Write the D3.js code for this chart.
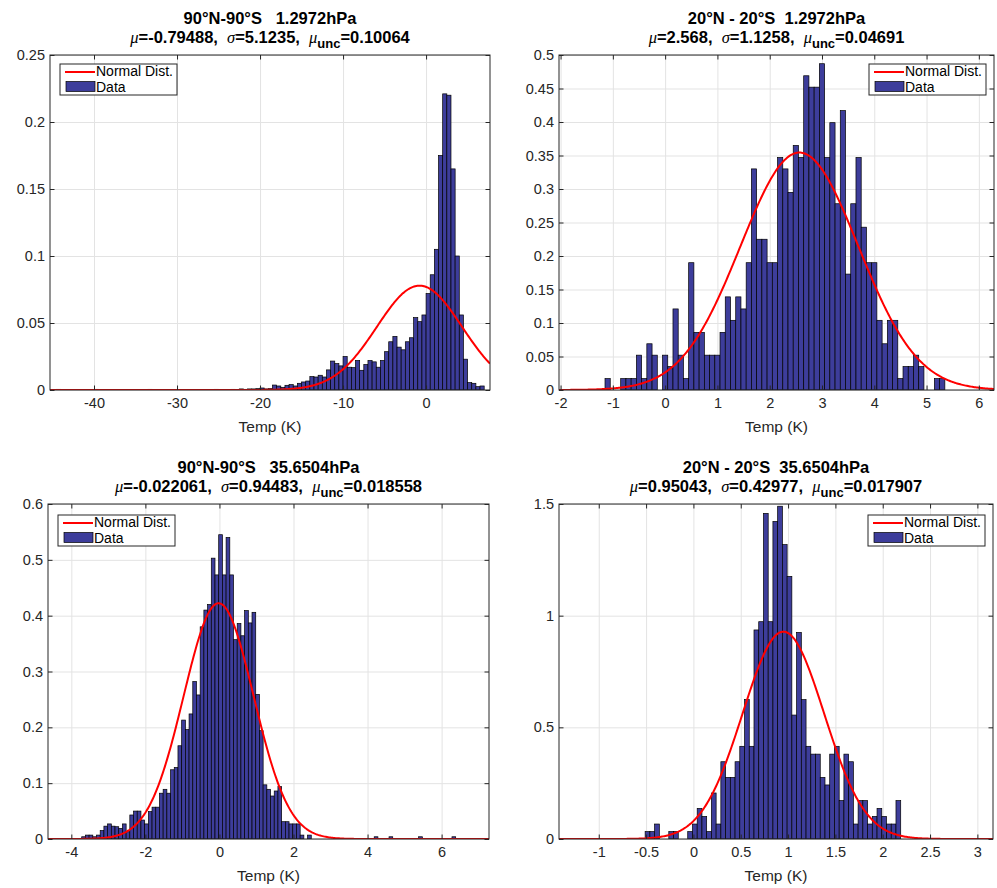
<!DOCTYPE html>
<html lang="en">

<head>
	<meta charset="utf-8">
	<title>Temp (K) histograms</title>
	<script src="https://cdn.jsdelivr.net/npm/d3@7"></script>
	<style>
		body {
			margin: 0;
			background: #fff;
		}

		svg {
			display: block;
			font-family: "Liberation Sans", Arial, Helvetica, sans-serif;
		}

		.title {
			font-size: 16.5px;
			font-weight: bold;
			fill: #000;
			white-space: pre;
		}

		.greek {
			font-family: "Liberation Serif", "DejaVu Serif", serif;
			font-style: italic;
			font-weight: normal;
			font-size: 16.5px;
		}

		.tick text {
			font-size: 14.5px;
			fill: #262626;
		}

		.grid line {
			stroke: #e3e3e3;
			stroke-width: 1;
		}

		.ticks line {
			stroke: #262626;
		}

		.xlabel {
			font-size: 15.5px;
			fill: #262626;
		}

		.legend text {
			font-size: 14px;
			fill: #000;
		}
	</style>
</head>

<body>
	<svg id="chart" width="997" height="888"></svg>

	<script>
		// panel titles (first line) and fit parameters shown in the second line
		var regions = ["90°N-90°S   1.2972hPa", "20°N - 20°S  1.2972hPa", "90°N-90°S   35.6504hPa", "20°N - 20°S  35.6504hPa"];
		var muText = ["-0.79488", "2.568", "-0.022061", "0.95043"];
		var sigmaText = ["5.1235", "1.1258", "0.94483", "0.42977"];
		var uncText = ["0.10064", "0.04691", "0.018558", "0.017907"];
		var mus = [-0.79488, 2.568, -0.022061, 0.95043];
		var sigmas = [5.1235, 1.1258, 0.94483, 0.42977];

		// axis limits and ticks
		var xLims = [[-45.3, 7.7], [-2.03, 6.29], [-4.63, 7.28], [-1.42, 3.165]];
		var yMaxs = [0.25, 0.5, 0.6, 1.5];
		var xTicks = [
			[-40, -30, -20, -10, 0],
			[-2, -1, 0, 1, 2, 3, 4, 5, 6],
			[-4, -2, 0, 2, 4, 6],
			[-1, -0.5, 0, 0.5, 1, 1.5, 2, 2.5, 3]
		];
		var yTicks = [
			[0, 0.05, 0.1, 0.15, 0.2, 0.25],
			[0, 0.05, 0.1, 0.15, 0.2, 0.25, 0.3, 0.35, 0.4, 0.45, 0.5],
			[0, 0.1, 0.2, 0.3, 0.4, 0.5, 0.6],
			[0, 0.5, 1, 1.5]
		];

		// histogram bins: left edge of first bin, bin width, normalised frequency per bin
		var binStart = [-45, -1.15, -3.72, -0.51];
		var binWidth = [0.5, 0.1, 0.1, 0.05];

		var freq1 = [
			0, 0.0005, 0, 0, 0, 0, 0, 0, 0, 0,
			0.0005, 0, 0, 0, 0, 0, 0, 0, 0, 0,
			0, 0, 0, 0.0005, 0, 0, 0, 0, 0, 0,
			0, 0, 0, 0, 0, 0, 0, 0, 0, 0.0005,
			0, 0, 0, 0.0005, 0, 0.0008, 0.0005, 0.0008, 0.0008, 0.001,
			0.0015, 0.0008, 0.001, 0.0037, 0.003, 0.002, 0.0035, 0.004, 0.003, 0.005,
			0.006, 0.0067, 0.010, 0.0097, 0.011, 0.0097, 0.015, 0.0216, 0.0197, 0.018,
			0.025, 0.017, 0.0167, 0.022, 0.0147, 0.019, 0.022, 0.021, 0.017, 0.022,
			0.0286, 0.036, 0.040, 0.032, 0.030, 0.036, 0.039, 0.054, 0.051, 0.056,
			0.072, 0.086, 0.105, 0.175, 0.221, 0.220, 0.165, 0.100, 0.056, 0.023,
			0.0055, 0.005, 0.0025, 0.003
		];

		var freq2 = [
			0.017, 0, 0, 0.017, 0.017, 0.017, 0.052, 0.017, 0.069, 0.052,
			0, 0.052, 0.035, 0.121, 0.052, 0.017, 0.19, 0.086, 0.086, 0.052,
			0.052, 0.052, 0.086, 0.139, 0.104, 0.139, 0.121, 0.19, 0.33, 0.225,
			0.225, 0.19, 0.19, 0.347, 0.33, 0.295, 0.365, 0.347, 0.469, 0.452,
			0.452, 0.487, 0.347, 0.399, 0.278, 0.417, 0.173, 0.278, 0.347, 0.243,
			0.19, 0.19, 0.104, 0.069, 0.104, 0.104, 0.017, 0.035, 0.035, 0.052,
			0.035, 0, 0, 0.017, 0.017
		];

		var freq3 = [
			0.004, 0.007, 0.007, 0.004, 0.007, 0.015, 0.023, 0.027, 0.023, 0.022,
			0.019, 0.027, 0.013, 0.043, 0.05, 0.05, 0.034, 0.027, 0.049, 0.057,
			0.057, 0.082, 0.089, 0.082, 0.124, 0.128, 0.167, 0.213, 0.196, 0.224,
			0.282, 0.258, 0.380, 0.410, 0.42, 0.503, 0.473, 0.545, 0.473, 0.54,
			0.473, 0.357, 0.386, 0.364, 0.409, 0.387, 0.406, 0.259, 0.194, 0.097,
			0.089, 0.077, 0.086, 0.094, 0.031, 0.031, 0.027, 0.027, 0.027, 0.007,
			0, 0.007, 0, 0, 0, 0, 0, 0, 0, 0,
			0, 0, 0, 0, 0, 0, 0, 0, 0, 0.004,
			0, 0, 0, 0.004, 0, 0, 0, 0, 0, 0,
			0, 0.004, 0, 0, 0, 0, 0, 0, 0, 0,
			0.004
		];

		var freq4 = [
			0.033, 0.033, 0.067, 0, 0, 0.033, 0.033, 0, 0, 0.033,
			0.067, 0.137, 0.101, 0.033, 0.206, 0.067, 0.346, 0.276, 0.276, 0.346,
			0.415, 0.624, 0.415, 0.936, 0.973, 1.458, 0.973, 1.422, 1.49, 1.318,
			1.176, 0.555, 0.925, 0.624, 0.415, 0.38, 0.38, 0.276, 0.242, 0.38,
			0.415, 0.172, 0.38, 0.346, 0.067, 0.172, 0.172, 0.067, 0.101, 0.137,
			0.101, 0.067, 0.067, 0.172
		];

		var freqs = [freq1, freq2, freq3, freq4];

		// plot boxes in pixels
		var boxes = [
			{ left: 50, top: 55, right: 490, bottom: 390, legend: "left" },
			{ left: 559, top: 55, right: 994, bottom: 390, legend: "right" },
			{ left: 48, top: 504, right: 489, bottom: 839, legend: "left" },
			{ left: 559, top: 504, right: 993, bottom: 839, legend: "right" }
		];

		var barFill = "#3d3d9b";
		var curveColor = "#ff0000";
		var axisColor = "#262626";

		var svg = d3.select("#chart");

		function normalPdf(x, mu, sigma) {
			var z = (x - mu) / sigma;
			return Math.exp(-0.5 * z * z) / (sigma * Math.sqrt(2 * Math.PI));
		}

		function drawPanel(i) {
			var box = boxes[i];
			var w = box.right - box.left;
			var h = box.bottom - box.top;

			var x = d3.scaleLinear().domain(xLims[i]).range([0, w]);
			var y = d3.scaleLinear().domain([0, yMaxs[i]]).range([h, 0]);

			var g = svg.append("g")
				.attr("transform", "translate(" + box.left + "," + box.top + ")");

			g.append("clipPath").attr("id", "clip" + i)
				.append("rect").attr("width", w).attr("height", h);

			// grid
			g.append("g").attr("class", "grid")
				.call(d3.axisBottom(x).tickValues(xTicks[i]).tickSize(h).tickFormat(""))
				.call(function(s) { s.select(".domain").remove(); });
			g.append("g").attr("class", "grid")
				.call(d3.axisLeft(y).tickValues(yTicks[i]).tickSize(-w).tickFormat(""))
				.call(function(s) { s.select(".domain").remove(); });

			// histogram bars
			var bins = freqs[i].map(function(v, k) {
				return { x0: binStart[i] + k * binWidth[i], x1: binStart[i] + (k + 1) * binWidth[i], v: v };
			}).filter(function(d) { return d.v > 0; });

			g.append("g").attr("clip-path", "url(#clip" + i + ")")
				.selectAll("rect").data(bins)
				.enter().append("rect")
				.attr("x", function(d) { return x(d.x0); })
				.attr("width", function(d) { return x(d.x1) - x(d.x0); })
				.attr("y", function(d) { return y(d.v); })
				.attr("height", function(d) { return y(0) - y(d.v); })
				.attr("fill", barFill)
				.attr("stroke", "#000")
				.attr("stroke-width", 0.7);

			// normal distribution fit
			var xs = d3.range(0, 401).map(function(k) {
				return xLims[i][0] + (xLims[i][1] - xLims[i][0]) * k / 400;
			});
			var line = d3.line()
				.x(function(d) { return x(d); })
				.y(function(d) { return y(normalPdf(d, mus[i], sigmas[i])); });
			g.append("path").datum(xs)
				.attr("clip-path", "url(#clip" + i + ")")
				.attr("d", line)
				.attr("fill", "none")
				.attr("stroke", curveColor)
				.attr("stroke-width", 2);

			// axes, ticks pointing inward on all four sides
			var fmt = function(d) { return String(d); };
			g.append("g").attr("class", "ticks")
				.attr("transform", "translate(0," + h + ")")
				.call(d3.axisBottom(x).tickValues(xTicks[i]).tickSize(-4.5).tickPadding(7.5).tickFormat(fmt))
				.call(function(s) { s.select(".domain").remove(); });
			g.append("g").attr("class", "ticks")
				.call(d3.axisTop(x).tickValues(xTicks[i]).tickSize(-4.5).tickFormat(""))
				.call(function(s) { s.select(".domain").remove(); });
			g.append("g").attr("class", "ticks")
				.call(d3.axisLeft(y).tickValues(yTicks[i]).tickSize(-4.5).tickPadding(5).tickFormat(fmt))
				.call(function(s) { s.select(".domain").remove(); });
			g.append("g").attr("class", "ticks")
				.attr("transform", "translate(" + w + ",0)")
				.call(d3.axisRight(y).tickValues(yTicks[i]).tickSize(-4.5).tickFormat(""))
				.call(function(s) { s.select(".domain").remove(); });

			g.append("rect")
				.attr("width", w).attr("height", h)
				.attr("fill", "none")
				.attr("stroke", axisColor)
				.attr("stroke-width", 1);

			// x label
			g.append("text").attr("class", "xlabel")
				.attr("x", w / 2).attr("y", h + 42)
				.attr("text-anchor", "middle")
				.text("Temp (K)");

			// title, two lines
			g.append("text").attr("class", "title")
				.attr("x", w / 2).attr("y", -31)
				.attr("text-anchor", "middle")
				.text(regions[i]);

			var t2 = g.append("text").attr("class", "title")
				.attr("x", w / 2).attr("y", -12)
				.attr("text-anchor", "middle");
			t2.append("tspan").attr("class", "greek").text("μ");
			t2.append("tspan").text("=" + muText[i] + ",  ");
			t2.append("tspan").attr("class", "greek").text("σ");
			t2.append("tspan").text("=" + sigmaText[i] + ",  ");
			t2.append("tspan").attr("class", "greek").text("μ");
			t2.append("tspan").attr("dy", 5).style("font-size", "13px").text("unc");
			t2.append("tspan").attr("dy", -5).text("=" + uncText[i]);

			// legend
			var lw = 117, lh = 31;
			var lx = box.legend == "left" ? 10 : w - lw - 8;
			var ly = i < 2 ? 9 : 11;
			var lg = g.append("g").attr("class", "legend")
				.attr("transform", "translate(" + lx + "," + ly + ")");
			lg.append("rect")
				.attr("width", lw).attr("height", lh)
				.attr("fill", "#fff")
				.attr("stroke", axisColor)
				.attr("stroke-width", 1);
			lg.append("line")
				.attr("x1", 5).attr("x2", 35)
				.attr("y1", 8).attr("y2", 8)
				.attr("stroke", curveColor)
				.attr("stroke-width", 2);
			lg.append("text").attr("x", 36).attr("y", 12).text("Normal Dist.");
			lg.append("rect")
				.attr("x", 6).attr("y", 17.5)
				.attr("width", 29).attr("height", 10)
				.attr("fill", barFill)
				.attr("stroke", "#000")
				.attr("stroke-width", 0.7);
			lg.append("text").attr("x", 36).attr("y", 28).text("Data");
		}

		for (var i = 0; i < 4; i++) {
			drawPanel(i);
		}
	</script>
</body>

</html>
